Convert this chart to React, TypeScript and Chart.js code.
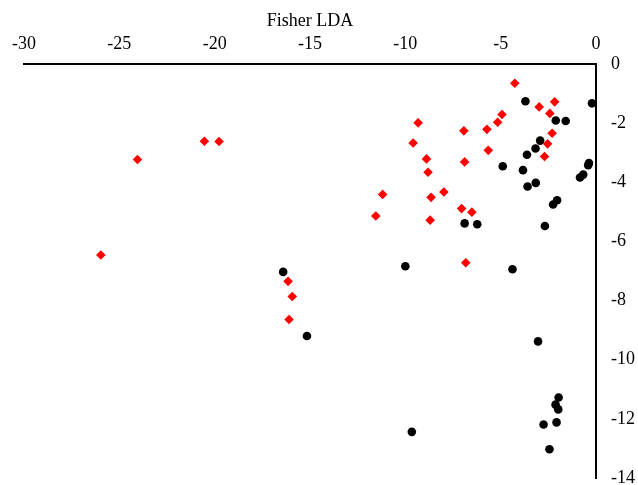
import React, { useEffect, useRef } from "react";
import { Chart, registerables } from "chart.js";

Chart.register(...registerables);

const FONT = "'Liberation Serif', 'Times New Roman', serif";

const xTitle = "Fisher LDA";
const xTicks = [-30, -25, -20, -15, -10, -5, 0];
const yTicks = [0, -2, -4, -6, -8, -10, -12, -14];

// Red diamonds
const redX = [
  -4.26, -2.17, -2.98, -2.42, -4.93, -5.16, -9.33, -5.72, -6.93, -2.3,
  -20.54, -19.77, -9.59, -2.54, -5.65, -2.7, -24.05, -8.89, -6.89, -8.81,
  -11.19, -7.98, -8.65, -7.05, -6.51, -11.55, -8.7, -25.97, -6.83, -16.15,
  -15.93, -16.1,
];
const redY = [
  -0.65, -1.28, -1.45, -1.67, -1.71, -1.97, -1.99, -2.21, -2.26, -2.34,
  -2.61, -2.62, -2.67, -2.7, -2.92, -3.13, -3.23, -3.21, -3.31, -3.66,
  -4.41, -4.33, -4.51, -4.89, -5.01, -5.14, -5.28, -6.46, -6.72, -7.35,
  -7.86, -8.64,
];

// Black circles
const blackX = [
  -3.7, -0.21, -2.11, -1.59, -2.93, -3.17, -3.62, -4.89, -3.83, -0.37,
  -0.41, -0.84, -0.67, -3.59, -3.16, -2.25, -2.04, -6.89, -6.23, -2.68,
  -16.41, -10.0, -4.38, -15.16, -3.04, -1.96, -2.12, -1.98, -2.07, -2.75,
  -9.66, -2.44,
];
const blackY = [
  -1.26, -1.33, -1.91, -1.93, -2.59, -2.86, -3.07, -3.46, -3.59, -3.35,
  -3.42, -3.84, -3.74, -4.14, -4.02, -4.75, -4.61, -5.39, -5.42, -5.48,
  -7.03, -6.84, -6.94, -9.2, -9.38, -11.28, -11.52, -11.68, -12.12, -12.19,
  -12.44, -13.03,
];

export default function App() {
  const ref = useRef<HTMLCanvasElement | null>(null);

  useEffect(() => {
    if (!ref.current) return;
    const font = { family: FONT, size: 18 };
    const chart = new Chart(ref.current, {
      type: "scatter",
      data: {
        datasets: [
          {
            label: "red",
            data: redX.map((x, i) => ({ x, y: redY[i] })),
            pointStyle: "rectRot",
            pointRadius: 4.8,
            backgroundColor: "#ff0000",
            borderColor: "#ff0000",
            borderWidth: 0,
            clip: false,
          },
          {
            label: "black",
            data: blackX.map((x, i) => ({ x, y: blackY[i] })),
            pointStyle: "circle",
            pointRadius: 4.3,
            backgroundColor: "#000000",
            borderColor: "#000000",
            borderWidth: 0,
            clip: false,
          },
        ],
      },
      options: {
        animation: false,
        responsive: false,
        maintainAspectRatio: false,
        layout: { padding: { left: 24, top: 0, right: 0, bottom: 7 } },
        plugins: {
          legend: { display: false },
          tooltip: { enabled: false },
        },
        scales: {
          x: {
            type: "linear",
            position: "top",
            min: -30,
            max: 0,
            afterBuildTicks: (s: any) => {
              s.ticks = xTicks.map((v) => ({ value: v }));
            },
            grid: { display: false, drawTicks: false },
            border: { display: true, color: "#000", width: 2 },
            ticks: {
              color: "#000",
              font,
              padding: 9,
              maxRotation: 0,
              autoSkip: false,
            },
            title: {
              display: true,
              text: xTitle,
              color: "#000",
              font,
              padding: { top: 10, bottom: 0 },
            },
            afterFit: (s: any) => {
              s.height = 64;
              s.paddingLeft = 0;
              s.paddingRight = 0;
            },
          },
          y: {
            type: "linear",
            position: "right",
            min: -14,
            max: 0,
            afterBuildTicks: (s: any) => {
              s.ticks = yTicks.map((v) => ({ value: v }));
            },
            grid: { display: false, drawTicks: false },
            border: { display: true, color: "#000", width: 2 },
            ticks: {
              color: "#000",
              font,
              padding: 15,
              autoSkip: false,
            },
            afterFit: (s: any) => {
              s.width = 42;
              s.paddingTop = 0;
              s.paddingBottom = 0;
            },
          },
        },
      },
    });
    return () => chart.destroy();
  }, []);

  return (
    <div
      style={{
        position: "fixed",
        left: 0,
        top: 0,
        width: 638,
        height: 485,
        background: "#fff",
      }}
    >
      <canvas ref={ref} width={638} height={485} style={{ width: 638, height: 485 }} />
    </div>
  );
}
